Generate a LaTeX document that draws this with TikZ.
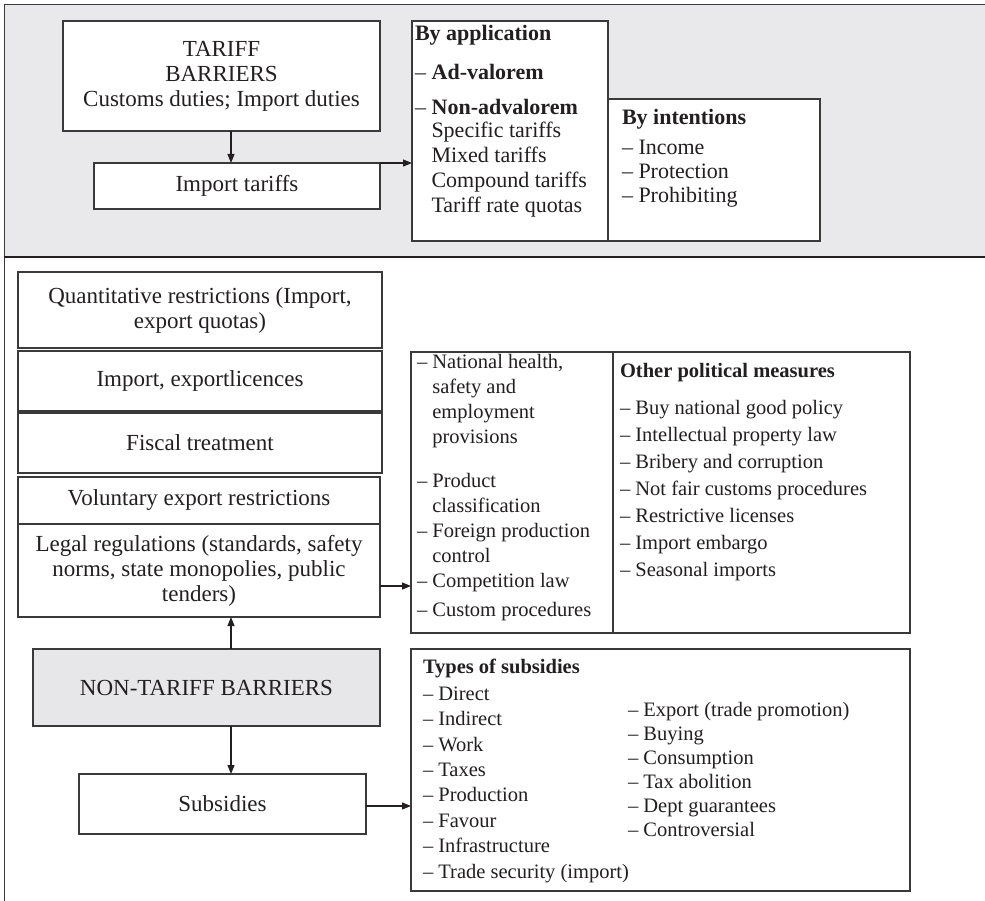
\documentclass[tikz,border=0pt]{standalone}
\usepackage{fontspec}
\setmainfont{Liberation Serif}
\usetikzlibrary{arrows.meta}
\definecolor{ink}{HTML}{231F20}
\definecolor{linec}{HTML}{3A3A3A}
\definecolor{panel}{HTML}{E9E9EB}
\definecolor{ntbfill}{HTML}{E7E7E9}
\begin{document}
\begin{tikzpicture}[x=1pt,y=-1pt,
  box/.style={draw=linec, line width=1.2pt, fill=white, inner sep=0pt, outer sep=0pt, text=ink, align=center},
  arr/.style={draw=ink, line width=1.2pt, -{Triangle[length=9pt,width=7pt]}},
  lst/.style={inner sep=0pt, outer sep=0pt, anchor=base west, align=left, text=ink},
  big/.style={font=\fontsize{23}{25}\selectfont},
  mid/.style={font=\fontsize{22}{25}\selectfont},
  sml/.style={font=\fontsize{20.5}{25}\selectfont},
]
\useasboundingbox (0,0) rectangle (985,901);
% frame
\fill[panel] (4,5) rectangle (985,257);
\draw[linec, line width=1pt] (985,5) -- (4,5) -- (4,901);
\draw[ink, line width=2pt] (4,257) -- (985,257);

\coordinate (ax) at (231,0);
\coordinate (ay1) at (0,586);
\coordinate (ay2) at (0,806);

% tariff section
\node[box, big, minimum width=317pt, minimum height=110pt] (tb) at (221.5,76) {TARIFF\\BARRIERS\\Customs duties; Import duties};
\node[box, big, minimum width=286pt, minimum height=46pt] (it) at (237,186) {Import tariffs};
\node[box, minimum width=196pt, minimum height=220pt] (ba) at (510,131) {};
\node[box, minimum width=212pt, minimum height=142pt] (bi) at (714,170) {};
\node[lst, mid] (batx) at (415,213) {\textbf{By application}\\[14pt]
 – \textbf{Ad-valorem}\\[10pt]
 – \textbf{Non-advalorem}\\[-2pt]
 \hphantom{– }Specific tariffs\\
 \hphantom{– }Mixed tariffs\\
 \hphantom{– }Compound tariffs\\
 \hphantom{– }Tariff rate quotas};
\node[lst, font=\fontsize{22}{24}\selectfont] (bitx) at (622,203) {\textbf{By intentions}\\[6pt]
 – Income\\ – Protection\\ – Prohibiting};

\draw[arr] (tb.south -| ax) -- (it.north -| ax);
\draw[arr] (it.north east) -- (ba.west |- it.north east);

% non-tariff section
\node[box,big, minimum width=364pt, minimum height=76pt] (qr) at (200,310) {Quantitative restrictions (Import,\\export quotas)};
\node[box,big, minimum width=364pt, minimum height=60pt] (il) at (200,381) {Import, exportlicences};
\node[box,big, minimum width=364pt, minimum height=60pt] (ft) at (200,443) {Fiscal treatment};
\node[box,big, minimum width=362pt, minimum height=47pt] (ve) at (199,500.5) {Voluntary export restrictions};
\node[box,big, minimum width=362pt, minimum height=93pt] (lr) at (199,570.5) {Legal regulations (standards, safety\\norms, state monopolies, public\\tenders)};
\node[box,big, fill=ntbfill, minimum width=347pt, minimum height=77pt] (ntb) at (206.5,687.5) {NON-TARIFF BARRIERS};
\node[box,big, minimum width=287pt, minimum height=60pt] (sub) at (222.5,804) {Subsidies};

\node[box, minimum width=202pt, minimum height=281pt] (nh) at (512,492.5) {};
\node[box, minimum width=297pt, minimum height=281pt] (op) at (761.5,492.5) {};
\node[box, minimum width=499pt, minimum height=242pt] (ts) at (660.5,770) {};

\node[lst, sml] (nhtx) at (417,616) {– National health,\\
 \hphantom{– }safety and\\
 \hphantom{– }employment\\
 \hphantom{– }provisions\\[19pt]
 – Product\\
 \hphantom{– }classification\\
 – Foreign production\\
 \hphantom{– }control\\
 – Competition law\\[4pt]
 – Custom procedures};
\node[lst, font=\fontsize{20.5}{27}\selectfont] (optx) at (620,576) {\textbf{Other political measures}\\[10pt]
 – Buy national good policy\\
 – Intellectual property law\\
 – Bribery and corruption\\
 – Not fair customs procedures\\
 – Restrictive licenses\\
 – Import embargo\\
 – Seasonal imports};
\node[lst, font=\fontsize{20.5}{25.4}\selectfont] (tstx) at (423,878) {\textbf{Types of subsidies}\\[1.6pt]
 – Direct\\ – Indirect\\ – Work\\ – Taxes\\ – Production\\ – Favour\\ – Infrastructure\\ – Trade security (import)};
\node[lst, font=\fontsize{20.5}{24}\selectfont] (tsrx) at (628,836) {– Export (trade promotion)\\
 – Buying\\ – Consumption\\ – Tax abolition\\ – Dept guarantees\\ – Controversial};

\draw[arr] (lr.east |- ay1) -- (nh.west |- ay1);
\draw[arr] (ntb.north -| ax) -- (lr.south -| ax);
\draw[arr] (ntb.south -| ax) -- (sub.north -| ax);
\draw[arr] (sub.east |- ay2) -- (ts.west |- ay2);
\end{tikzpicture}
\end{document}
